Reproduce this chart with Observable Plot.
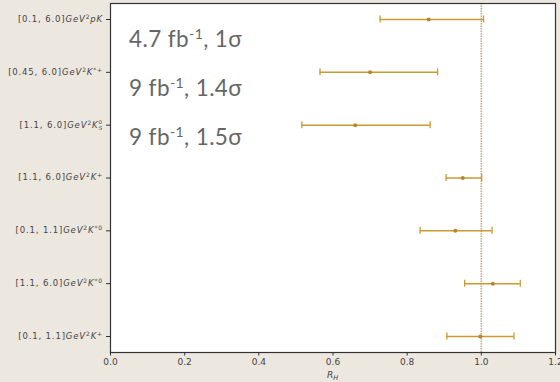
<!DOCTYPE html>
<html><head><meta charset="utf-8">
<script src="https://cdn.jsdelivr.net/npm/d3@7"></script>
<script src="https://cdn.jsdelivr.net/npm/@observablehq/plot@0.6"></script>
<style>
html,body{margin:0;padding:0;background:#ece7df;}
#chart{width:560px;height:382px;}
svg{display:block;}
</style></head><body><div id="chart"></div>
<script>
// q² ranges and decay particles (top to bottom)
const ranges = ["[0.1, 6.0]","[0.45, 6.0]","[1.1, 6.0]","[1.1, 6.0]","[0.1, 1.1]","[1.1, 6.0]","[0.1, 1.1]"];
const particles = ["pK","K","K","K","K","K","K"];
const particleSup = ["","*+","0","+","*0","*0","+"];
const particleSub = ["","","S","","","",""];
// R_H central values and interval edges
const central = [0.858, 0.700, 0.660, 0.950, 0.930, 1.031, 0.997];
const lower   = [0.727, 0.565, 0.516, 0.905, 0.835, 0.955, 0.907];
const upper   = [1.006, 0.882, 0.862, 1.001, 1.029, 1.105, 1.088];
const xTicks = [0.0, 0.2, 0.4, 0.6, 0.8, 1.0, 1.2];
const reference = [1.0];
// annotations: [before sup, sup, after]
const annoBase = ["4.7 fb", "9 fb", "9 fb"];
const annoSup = ["-1", "-1", "-1"];
const annoTail = [", 1σ", ", 1.4σ", ", 1.5σ"];

const data = central.map((c, i) => ({i, c, lo: lower[i], hi: upper[i]}));
const capHalf = 0.066;
const barColor = "#c99a30";

const plot = Plot.plot({
  width: 560, height: 382,
  marginLeft: 110, marginRight: 5, marginTop: 3, marginBottom: 30,
  style: {background: "transparent", fontFamily: "DejaVu Sans", fontSize: "9px", color: "#444", overflow: "visible"},
  x: {domain: [0, 1.2], label: null},
  y: {domain: [-0.303, 6.303], reverse: true, label: null},
  marks: [
    Plot.frame({fill: "white", stroke: "none"}),
    Plot.axisX({ticks: xTicks, tickFormat: d => d.toFixed(1), tickSize: 3.5, tickPadding: 3, stroke: "#333", fill: "#444", label: null}),
    Plot.axisY({ticks: d3.range(7), tickFormat: () => "", tickSize: 4, stroke: "#333", label: null}),
    Plot.ruleX(reference, {stroke: "#bdac88", strokeWidth: 1.6, strokeDasharray: "1.5,1"}),
    Plot.ruleY(data, {y: "i", x1: "lo", x2: "hi", stroke: barColor, strokeWidth: 1.5}),
    Plot.ruleX(data, {x: "lo", y1: d => d.i - capHalf, y2: d => d.i + capHalf, stroke: barColor, strokeWidth: 1.3}),
    Plot.ruleX(data, {x: "hi", y1: d => d.i - capHalf, y2: d => d.i + capHalf, stroke: barColor, strokeWidth: 1.3}),
    Plot.dot(data, {x: "c", y: "i", r: 2, fill: "#b5862a"}),
    Plot.frame({stroke: "#333", strokeWidth: 1.2})
  ]
});
document.getElementById("chart").appendChild(plot);

const svg = d3.select(plot);
const yS = plot.scale("y");
// y tick labels (rich text)
const g = svg.append("g").attr("font-family", "DejaVu Sans").attr("font-size", 8.5)
  .attr("letter-spacing", 0.85).attr("fill", "#444").attr("text-anchor", "end");
ranges.forEach((r, i) => {
  const t = g.append("text").attr("x", 103).attr("y", yS.apply(i)).attr("dy", "0.35em");
  t.append("tspan").text(r);
  t.append("tspan").attr("font-style", "italic").text("GeV");
  t.append("tspan").attr("font-size", 6).attr("baseline-shift", "super").text("2");
  t.append("tspan").attr("font-style", "italic").text(particles[i]);
  if (particleSup[i] && particleSub[i]) {
    t.append("tspan").attr("font-size", 5.5).attr("dy", -3.3).text(particleSup[i]);
    t.append("tspan").attr("font-size", 5.5).attr("font-style", "italic").attr("dx", -4.2).attr("dy", 5.6).text(particleSub[i]);
  } else if (particleSup[i]) {
    t.append("tspan").attr("font-size", 6).attr("baseline-shift", "super").text(particleSup[i]);
  }
});
// x axis label
const xl = svg.append("text").attr("x", (110 + 555) / 2).attr("y", 378).attr("text-anchor", "middle")
  .attr("font-family", "DejaVu Sans").attr("font-size", 9).attr("fill", "#444");
xl.append("tspan").attr("font-style", "italic").text("R");
xl.append("tspan").attr("font-style", "italic").attr("font-size", 6.5).attr("dy", "0.3em").text("H");
// annotations
const ga = svg.append("g").attr("font-family", "Lato, 'Open Sans', sans-serif").attr("font-size", 22.5)
  .attr("letter-spacing", 0.4).attr("fill", "#666").attr("text-anchor", "start");
annoBase.forEach((b, k) => {
  const t = ga.append("text").attr("x", 129).attr("y", 47 + k * 49);
  t.append("tspan").text(b);
  t.append("tspan").attr("font-size", 14).attr("dy", -8).text(annoSup[k]);
  t.append("tspan").attr("dy", 8).text(annoTail[k]);
});
</script></body></html>
